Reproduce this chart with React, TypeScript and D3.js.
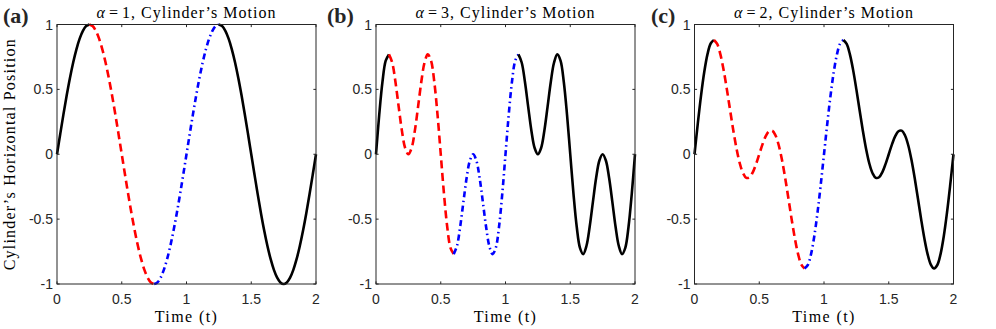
import React from "react";
import * as d3 from "d3";

// ---- data ----
const timeValues = [
  0, 0.025, 0.05, 0.075, 0.1, 0.125, 0.15, 0.175, 0.2, 0.225,
  0.25, 0.275, 0.3, 0.325, 0.35, 0.375, 0.4, 0.425, 0.45, 0.475,
  0.5, 0.525, 0.55, 0.575, 0.6, 0.625, 0.65, 0.675, 0.7, 0.725,
  0.75, 0.775, 0.8, 0.825, 0.85, 0.875, 0.9, 0.925, 0.95, 0.975,
  1, 1.025, 1.05, 1.075, 1.1, 1.125, 1.15, 1.175, 1.2, 1.225,
  1.25, 1.275, 1.3, 1.325, 1.35, 1.375, 1.4, 1.425, 1.45, 1.475,
  1.5, 1.525, 1.55, 1.575, 1.6, 1.625, 1.65, 1.675, 1.7, 1.725,
  1.75, 1.775, 1.8, 1.825, 1.85, 1.875, 1.9, 1.925, 1.95, 1.975,
  2,
];

const positionAlpha1 = [
  0, 0.1564, 0.309, 0.454, 0.5878, 0.7071, 0.809, 0.891, 0.9511, 0.9877,
  1, 0.9877, 0.9511, 0.891, 0.809, 0.7071, 0.5878, 0.454, 0.309, 0.1564,
  0, -0.1564, -0.309, -0.454, -0.5878, -0.7071, -0.809, -0.891, -0.9511, -0.9877,
  -1, -0.9877, -0.9511, -0.891, -0.809, -0.7071, -0.5878, -0.454, -0.309, -0.1564,
  0, 0.1564, 0.309, 0.454, 0.5878, 0.7071, 0.809, 0.891, 0.9511, 0.9877,
  1, 0.9877, 0.9511, 0.891, 0.809, 0.7071, 0.5878, 0.454, 0.309, 0.1564,
  0, -0.1564, -0.309, -0.454, -0.5878, -0.7071, -0.809, -0.891, -0.9511, -0.9877,
  -1, -0.9877, -0.9511, -0.891, -0.809, -0.7071, -0.5878, -0.454, -0.309, -0.1564,
  0,
];

const positionAlpha3 = [
  0, 0.3052, 0.559, 0.7209, 0.7695, 0.7071, 0.559, 0.3673, 0.1817, 0.0484,
  0, 0.0484, 0.1817, 0.3673, 0.559, 0.7071, 0.7695, 0.7209, 0.559, 0.3052,
  0, -0.3052, -0.559, -0.7209, -0.7695, -0.7071, -0.559, -0.3673, -0.1817, -0.0484,
  0, -0.0484, -0.1817, -0.3673, -0.559, -0.7071, -0.7695, -0.7209, -0.559, -0.3052,
  0, 0.3052, 0.559, 0.7209, 0.7695, 0.7071, 0.559, 0.3673, 0.1817, 0.0484,
  0, 0.0484, 0.1817, 0.3673, 0.559, 0.7071, 0.7695, 0.7209, 0.559, 0.3052,
  0, -0.3052, -0.559, -0.7209, -0.7695, -0.7071, -0.559, -0.3673, -0.1817, -0.0484,
  0, -0.0484, -0.1817, -0.3673, -0.559, -0.7071, -0.7695, -0.7209, -0.559, -0.3052,
  0,
];

const positionAlpha2 = [
  0, 0.2327, 0.4484, 0.6315, 0.7695, 0.8536, 0.8801, 0.85, 0.7695, 0.6484,
  0.5, 0.3394, 0.1817, 0.041, -0.0711, -0.1464, -0.1817, -0.1775, -0.1394, -0.0763,
  0, 0.0763, 0.1394, 0.1775, 0.1817, 0.1464, 0.0711, -0.041, -0.1817, -0.3394,
  -0.5, -0.6484, -0.7695, -0.85, -0.8801, -0.8536, -0.7695, -0.6315, -0.4484, -0.2327,
  0, 0.2327, 0.4484, 0.6315, 0.7695, 0.8536, 0.8801, 0.85, 0.7695, 0.6484,
  0.5, 0.3394, 0.1817, 0.041, -0.0711, -0.1464, -0.1817, -0.1775, -0.1394, -0.0763,
  0, 0.0763, 0.1394, 0.1775, 0.1817, 0.1464, 0.0711, -0.041, -0.1817, -0.3394,
  -0.5, -0.6484, -0.7695, -0.85, -0.8801, -0.8536, -0.7695, -0.6315, -0.4484, -0.2327,
  0,
];

// segment break times: [red dashed start, blue dash-dot start, blue end]
const breaksAlpha1 = [0.25, 0.75, 1.25];
const breaksAlpha3 = [0.1, 0.6, 1.1];
const breaksAlpha2 = [0.15, 0.85, 1.15];

const panelLetters = ["(a)", "(b)", "(c)"];
const alphaValues = [1, 3, 2];
const xTickValues = [0, 0.5, 1, 1.5, 2];
const yTickValues = [-1, -0.5, 0, 0.5, 1];
const yTickLabels = ["-1", "-0.5", "0", "0.5", "1"];
const xTickLabels = ["0", "0.5", "1", "1.5", "2"];

const panels = [
  { letter: panelLetters[0], alpha: alphaValues[0], y: positionAlpha1, breaks: breaksAlpha1, left: 57, letterX: 3 },
  { letter: panelLetters[1], alpha: alphaValues[1], y: positionAlpha3, breaks: breaksAlpha3, left: 376, letterX: 327 },
  { letter: panelLetters[2], alpha: alphaValues[2], y: positionAlpha2, breaks: breaksAlpha2, left: 694.5, letterX: 651 },
];

const W = 996;
const H = 329;
const plotW = 259;
const top = 24.5;
const bottom = 284;
const axisColor = "#262626";
const serif = "'Liberation Serif', 'DejaVu Serif', serif";
const sans = "'Liberation Sans', Arial, sans-serif";

function Panel({ p, idx }: { p: any; idx: number }) {
  const x = d3.scaleLinear().domain([0, 2]).range([p.left, p.left + plotW]);
  const y = d3.scaleLinear().domain([-1, 1]).range([bottom, top]);
  const pts = timeValues.map((t, i) => [t, p.y[i]] as [number, number]);
  const line = d3
    .line<[number, number]>()
    .x((d) => x(d[0]))
    .y((d) => y(d[1]))
    .curve(d3.curveCatmullRom.alpha(0.5));
  const eps = 1e-6;
  const seg = (a: number, b: number) => pts.filter((d) => d[0] >= a - eps && d[0] <= b + eps);
  const [b0, b1, b2] = p.breaks;
  const segs = [
    { d: seg(0, b0), color: "#000000", dash: "none" },
    { d: seg(b0, b1), color: "#ff0000", dash: "8,4.5" },
    { d: seg(b1, b2), color: "#0000ff", dash: "6,3.5,1.5,3.5" },
    { d: seg(b2, 2), color: "#000000", dash: "none" },
  ];
  const tl = 2.6;
  const cx = p.left + plotW / 2;
  return (
    <g>
      {segs.map((s, i) => (
        <path
          key={i}
          d={line(s.d) || ""}
          fill="none"
          stroke={s.color}
          strokeWidth={2.6}
          strokeDasharray={s.dash}
        />
      ))}
      <rect
        x={p.left}
        y={top}
        width={plotW}
        height={bottom - top}
        fill="none"
        stroke={axisColor}
        strokeWidth={1}
      />
      {xTickValues.map((v, i) => (
        <g key={"x" + i}>
          <line x1={x(v)} x2={x(v)} y1={bottom} y2={bottom - tl} stroke={axisColor} />
          <line x1={x(v)} x2={x(v)} y1={top} y2={top + tl} stroke={axisColor} />
          <text
            x={x(v)}
            y={304}
            textAnchor="middle"
            fontFamily={sans}
            fontSize={14}
            fill={axisColor}
          >
            {xTickLabels[i]}
          </text>
        </g>
      ))}
      {yTickValues.map((v, i) => (
        <g key={"y" + i}>
          <line x1={p.left} x2={p.left + tl} y1={y(v)} y2={y(v)} stroke={axisColor} />
          <line x1={p.left + plotW} x2={p.left + plotW - tl} y1={y(v)} y2={y(v)} stroke={axisColor} />
          <text
            x={p.left - 4}
            y={y(v) + 5}
            textAnchor="end"
            fontFamily={sans}
            fontSize={14}
            fill={axisColor}
          >
            {yTickLabels[i]}
          </text>
        </g>
      ))}
      <text
        x={cx}
        y={17.5}
        textAnchor="middle"
        fontFamily={serif}
        fontSize={16}
        letterSpacing={1}
        fill="#000"
      >
        <tspan fontStyle="italic">α</tspan>
        <tspan dx={3}>=</tspan>
        <tspan dx={3}>{p.alpha + ", Cylinder’s Motion"}</tspan>
      </text>
      <text
        x={cx}
        y={321.5}
        textAnchor="middle"
        fontFamily={serif}
        fontSize={16}
        letterSpacing={1.4}
        fill="#000"
      >
        Time (t)
      </text>
      <text
        x={p.letterX}
        y={23}
        fontFamily={serif}
        fontSize={22}
        fontWeight="bold"
        fill="#262626"
      >
        {p.letter}
      </text>
      {idx === 0 && (
        <text
          transform={`translate(15, ${(top + bottom) / 2}) rotate(-90)`}
          textAnchor="middle"
          fontFamily={serif}
          fontSize={16}
          letterSpacing={1.2}
          fill="#000"
        >
          Cylinder’s Horizontal Position
        </text>
      )}
    </g>
  );
}

export default function App() {
  return (
    <svg
      width={W}
      height={H}
      viewBox={`0 0 ${W} ${H}`}
      style={{ position: "fixed", left: 0, top: 0, background: "#fff" }}
    >
      <rect x={0} y={0} width={W} height={H} fill="#fff" />
      {panels.map((p, i) => (
        <Panel key={i} p={p} idx={i} />
      ))}
    </svg>
  );
}
